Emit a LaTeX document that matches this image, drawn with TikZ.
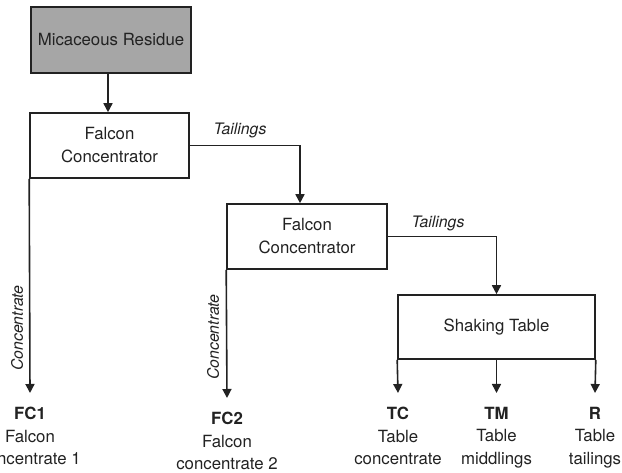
\documentclass[tikz,border=0pt]{standalone}
\usepackage{fontspec}
\setmainfont{TeX Gyre Heros}
\usetikzlibrary{arrows.meta,calc}
\definecolor{boxgray}{HTML}{A6A6A6}
\definecolor{ink}{HTML}{222222}
\begin{document}
\begin{tikzpicture}[x=1pt,y=1pt,
  every node/.style={text=ink},
  proc/.style={draw=ink, line width=1.6pt, minimum width=#1, inner sep=0pt, align=center,
    font=\fontsize{16.8}{23}\selectfont},
  flow/.style={draw=ink, line width=1.6pt, -{Triangle[length=9pt,width=9pt]}},
  lab/.style={font=\fontsize{15.8}{20}\selectfont\itshape},
  outlabel/.style={anchor=north, align=center, inner sep=0pt, font=\fontsize{16.8}{22.5}\selectfont}]
\useasboundingbox (0,0) rectangle (622,473);
% boxes
\node[proc=160pt, minimum height=66pt, fill=boxgray] (mr) at (111,433) {Micaceous Residue};
\node[proc=159pt, minimum height=65pt] (f1) at (109.5,327.5) {Falcon\\Concentrator};
\node[proc=160pt, minimum height=65pt] (f2) at (307,236.5) {Falcon\\Concentrator};
\node[proc=197pt, minimum height=64pt] (st) at (496.5,146) {Shaking Table};
% outputs
\node[outlabel] (fc1) at (30,66) {\textbf{FC1}\\Falcon\\concentrate 1};
\node[outlabel] (fc2) at (227,61) {\textbf{FC2}\\Falcon\\concentrate 2};
\node[outlabel] (tc) at (398,66) {\textbf{TC}\\Table\\concentrate};
\node[outlabel] (tm) at (496.5,66) {\textbf{TM}\\Table\\middlings};
\node[outlabel] (r) at (595,66) {\textbf{R}\\Table\\tailings};
% connectors
\draw[flow] (mr.south) ++(-3,0) coordinate (a1) -- (a1 |- f1.north);
\coordinate (t1) at ($(f2.north)+(-7,0)$);
\draw[flow] (f1.east) -| (t1);
\node[lab] at (240,343) {Tailings};
\draw[flow] (f2.east) -| (st.north);
\node[lab] at (438,250) {Tailings};
\draw[flow] (f1.south west) -- ($(fc1.north)+(0,14)$);
\node[lab, rotate=90] at (17,145) {Concentrate};
\draw[flow] (f2.south west) -- ($(fc2.north)+(0,14)$);
\node[lab, rotate=90] at (213,136) {Concentrate};
\draw[flow] (st.south west) -- ($(tc.north)+(0,14)$);
\draw[flow] (st.south) -- ($(tm.north)+(0,14)$);
\draw[flow] (st.south east) -- ($(r.north)+(0,14)$);
\end{tikzpicture}
\end{document}
